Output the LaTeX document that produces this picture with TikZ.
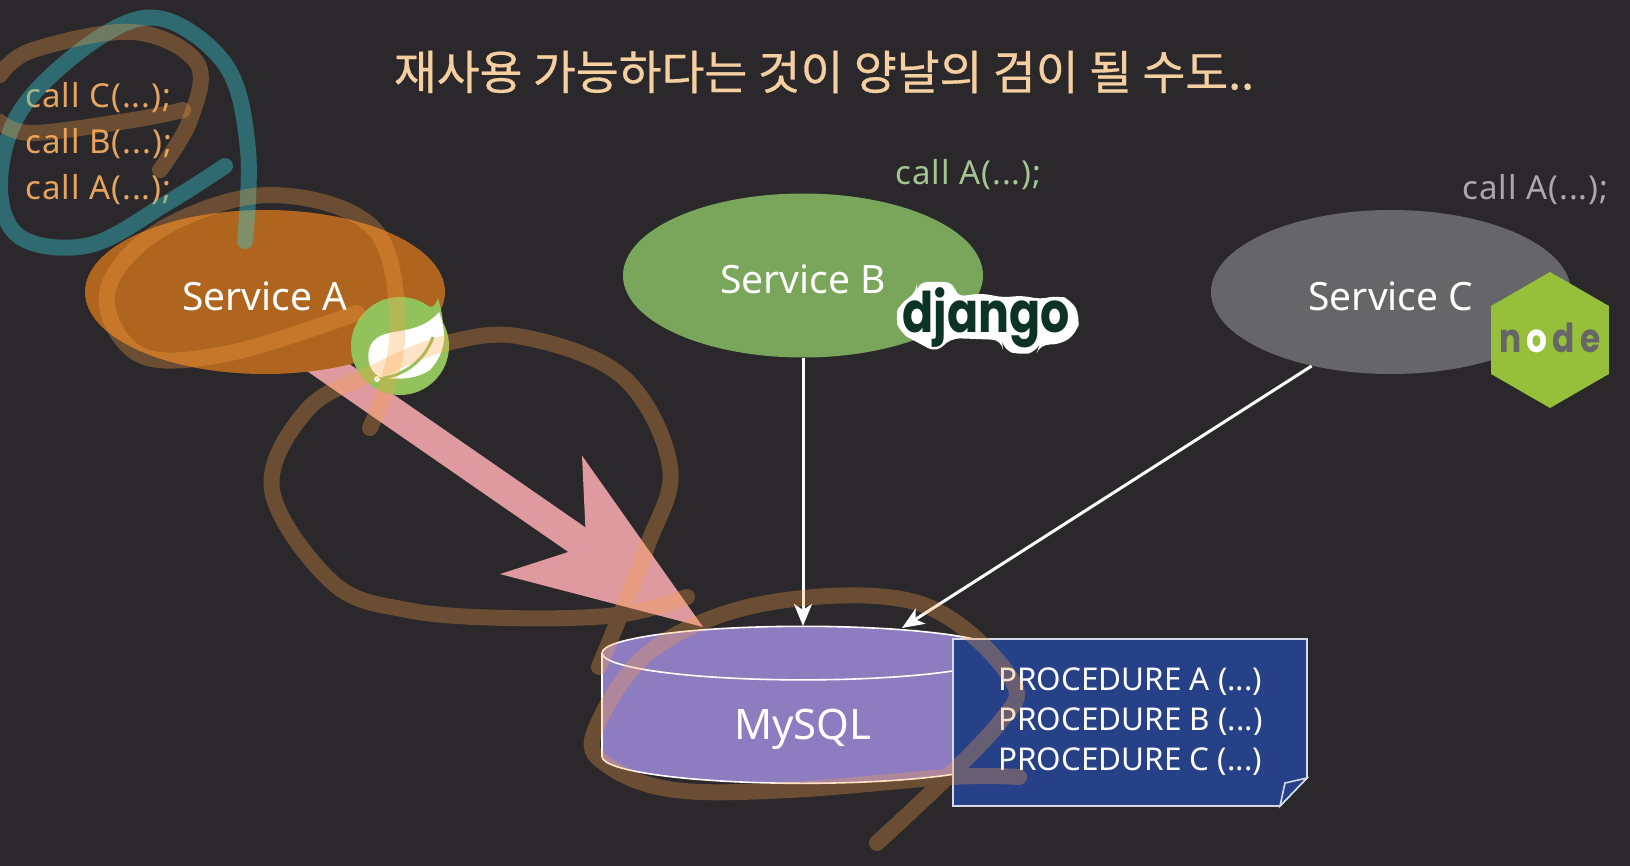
\documentclass[tikz,border=0pt]{standalone}
\usepackage{fontspec}
\setmainfont{Noto Sans}
\newfontfamily\titlefont[FakeBold=0.6]{Noto Sans CJK KR}
\newfontfamily\logofont[FakeStretch=0.82]{Poppins}
\usetikzlibrary{arrows.meta,shapes.geometric}
\definecolor{pageBack}{HTML}{2A282B}
\definecolor{orangeFill}{HTML}{B0651F}
\definecolor{greenFill}{HTML}{7AA65C}
\definecolor{greyFill}{HTML}{666567}
\definecolor{purpleFill}{HTML}{8E7CC0}
\definecolor{navyFill}{HTML}{274188}
\definecolor{pinkFill}{HTML}{DE9A9E}
\definecolor{orangeText}{HTML}{E6A45E}
\definecolor{greenText}{HTML}{A3C693}
\definecolor{greyText}{HTML}{A9A9AA}
\definecolor{titleText}{HTML}{F5CFA0}
\definecolor{springGreen}{HTML}{92C25C}
\definecolor{nodeGreen}{HTML}{97C03A}
\definecolor{djangoGreen}{HTML}{0C3326}
\definecolor{brownPen}{RGB}{255,163,67}
\definecolor{tealPen}{RGB}{54,207,215}
\pgfdeclarelayer{wires}
\pgfsetlayers{wires,main}
\tikzset{
  serviceNode/.style={shape=ellipse,inner sep=0pt,minimum width=180pt,minimum height=82pt,text height=19pt,text depth=0pt,font=\fontsize{19.5}{19.5}\selectfont,text=white},
  callText/.style={anchor=base west,inner sep=0pt,font=\fontsize{16.5}{16.5}\selectfont\addfontfeature{LetterSpace=3}},
  procText/.style={anchor=base west,inner sep=0pt,text=white,font=\fontsize{15.7}{15.7}\selectfont},
  wireDecorate/.style={draw=white,line width=1.5pt,-{Stealth[length=11pt,width=9pt,inset=3pt]}},
  brownStroke/.style={draw=brownPen,opacity=0.3,line width=8pt,line cap=round,line join=round},
  tealStroke/.style={draw=tealPen,opacity=0.4,line width=8pt,line cap=round,line join=round}
}
\begin{document}
\begin{tikzpicture}[x=0.5pt,y=-0.5pt]
\useasboundingbox (0,0) rectangle (1630,866);
%% title
\node (title) at (824,72) [inner sep=0pt,text=titleText,font=\titlefont\fontsize{23.3}{23.3}\selectfont] {재사용 가능하다는 것이 양날의 검이 될 수도..};
%% services
\node (serviceA) at (265,292) [serviceNode,fill=orangeFill] {Service A};
\node (serviceB) at (803,275.5) [serviceNode,fill=greenFill,text height=18.5pt] {Service B};
\node (serviceC) at (1391,292) [serviceNode,fill=greyFill] {Service C};
%% call lists
\foreach \nodename/\x/\y/\txt/\textcolor in {
  callC/25/108/C/orangeText, callB/25/154/B/orangeText, callA/25/200/A/orangeText,
  callBA/895/185/A/greenText, callCA/1462/200/A/greyText}
{
  \node (\nodename) at (\x,\y) [callText,text=\textcolor] {call \txt(...);};
}
%% database and its note
\node (mysql) at (803,718.6) [shape=cylinder,shape border rotate=90,aspect=0.39,draw=white,line width=0.8pt,
  cylinder uses custom fill,cylinder body fill=purpleFill,cylinder end fill=purpleFill,
  minimum width=201pt,minimum height=78.5pt,inner sep=0pt,text=white,text height=21pt,text depth=0pt,
  font=\fontsize{21}{21}\selectfont] {MySQL};
\coordinate (tipA) at (703,627);
\coordinate (tipB) at (803,626);
\coordinate (tipC) at (902,628);
\draw[draw=white!80!navyFill,line width=0.8pt,fill=navyFill] (953,639) -- (1307,639) -- (1307,778) -- (1280,806) -- (953,806) -- cycle;
\draw[draw=white!80!navyFill,line width=0.8pt,fill=navyFill] (1307,778) -- (1285,783) -- (1280,806) -- cycle;
\foreach \nodename/\y/\txt in {procA/690/A, procB/730/B, procC/770/C}
{
  \node (\nodename) at (998,\y) [procText] {PROCEDURE \txt\ (...)};
}
%% spring logo
\node (springLogo) at (400,346) [shape=circle,fill=springGreen,minimum size=49pt,inner sep=0pt] {};
\fill[springGreen] (425,305) .. controls (432,310) and (436,305) .. (438,298) .. controls (446,325) and (445,345) .. (436,360) -- cycle;
\fill[white] (439,312) .. controls (446,330) and (448,350) .. (430,370) .. controls (415,380) and (395,380) .. (380,377)
  .. controls (365,370) and (365,345) .. (377,338) .. controls (390,328) and (420,335) .. (439,312) -- cycle;
\draw[springGreen,line width=1.5pt] (383,378) .. controls (405,375) and (425,360) .. (433,337);
\fill[white] (377,379) circle (3);
%% django logo
\fill[white,rounded corners=5pt] (917,282) -- (955,282) -- (955,297) -- (983,293) -- (1003,298) -- (1023,295) -- (1040,300)
  -- (1057,295) -- (1072,300) -- (1080,317) -- (1077,333) -- (1060,345) -- (1040,344) -- (1037,352) -- (1020,355)
  -- (1003,350) -- (1002,340) -- (950,338) -- (937,353) -- (913,340) -- (900,333) -- (895,317) -- (900,303) -- (917,293) -- cycle;
\node (djangoLogo) at (986,318) [inner sep=0pt,text=djangoGreen,font=\logofont\bfseries\fontsize{28}{28}\selectfont] {django};
%% node logo
\node (nodeLogo) at (1550,340) [shape=regular polygon,regular polygon sides=6,shape border rotate=30,fill=nodeGreen,inner sep=0pt,minimum size=68pt,
  text height=13pt,text depth=0pt,text=greyFill,font=\logofont\bfseries\fontsize{20}{20}\selectfont] {\makebox[0pt]{n\kern2.5pt{\color{white}o}\kern2.5pt d\kern2.5pt e}};
%% edges
\begin{pgfonlayer}{wires}
  \fill[pageBack] (0,0) rectangle (1630,866);
  \draw[pinkFill,line width=15pt,-{Stealth[length=98.5pt,width=72pt,inset=27.5pt,line width=0pt]}] (serviceA) ++(35,56) -- (tipA);
\end{pgfonlayer}
\draw[wireDecorate] (serviceB.south) -- (tipB);
\draw[wireDecorate] (serviceC.223.5) -- (tipC);
%% pen strokes
\draw[tealStroke] plot[smooth,tension=0.6] coordinates {(245,241) (248,150) (227,67) (163,19) (100,37) (23,107) (0,183) (20,237) (90,245) (167,203) (225,166)};
\draw[brownStroke] plot[smooth,tension=0.6] coordinates {(160,170) (190,120) (197,63) (133,32) (33,50) (0,75)};
\draw[brownStroke] plot[smooth,tension=0.6] coordinates {(0,122) (33,133) (133,120) (183,110)};
\draw[brownStroke] plot[smooth,tension=0.6] coordinates {(370,428) (397,340) (375,230) (270,195) (160,230) (107,293) (140,355) (230,353) (357,313)};
\draw[brownStroke] plot[smooth,tension=0.6] coordinates {(687,597) (617,615) (507,618) (407,610) (333,583) (272,490) (307,410) (373,373) (447,343) (523,337) (623,377) (670,467) (647,547) (599,667)};
\draw[brownStroke] plot[smooth,tension=0.6] coordinates {(877,843) (996,727) (1010,677) (918,603) (767,603) (652,650) (594,733) (610,767) (675,790) (790,790) (950,777) (1019,777)};
\end{tikzpicture}
\end{document}
